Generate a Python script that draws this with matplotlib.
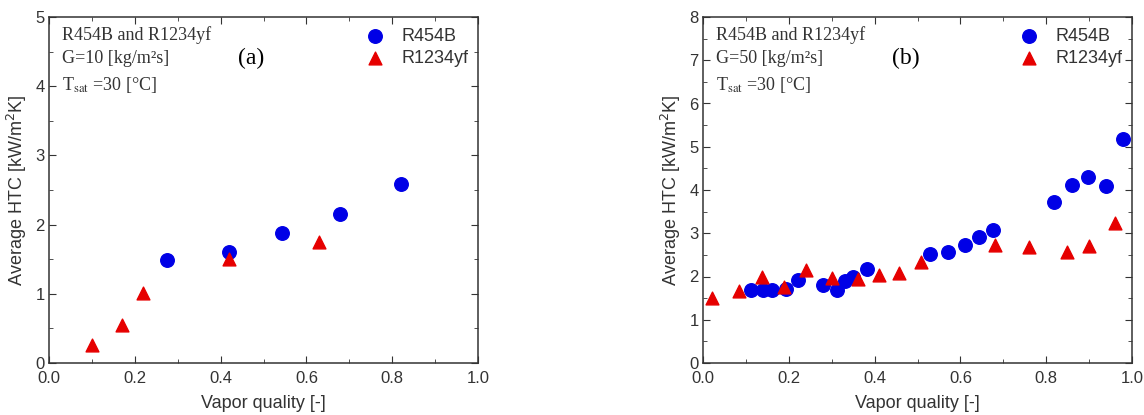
import numpy as np
import matplotlib
matplotlib.use('Agg')
import matplotlib.pyplot as plt
from matplotlib.ticker import MultipleLocator

plt.rcParams['font.family'] = ['Liberation Sans', 'DejaVu Sans']

# (a) G=10
xa_454 = [0.274, 0.419, 0.543, 0.678, 0.821]
ya_454 = [1.49, 1.61, 1.88, 2.16, 2.58]
xa_yf = [0.100, 0.171, 0.220, 0.419, 0.629]
ya_yf = [0.26, 0.55, 1.01, 1.51, 1.75]

# (b) G=50
xb_454 = [0.111, 0.140, 0.160, 0.194, 0.221, 0.279, 0.312, 0.330, 0.349, 0.382,
          0.528, 0.570, 0.610, 0.643, 0.676, 0.819, 0.860, 0.898, 0.939, 0.980]
yb_454 = [1.68, 1.68, 1.69, 1.71, 1.91, 1.81, 1.68, 1.90, 1.99, 2.18,
          2.52, 2.56, 2.73, 2.92, 3.07, 3.72, 4.11, 4.31, 4.10, 5.19]
xb_yf = [0.022, 0.084, 0.138, 0.189, 0.241, 0.300, 0.361, 0.411, 0.456, 0.509,
         0.680, 0.760, 0.849, 0.899, 0.960]
yb_yf = [1.51, 1.66, 2.00, 1.76, 2.14, 1.96, 1.94, 2.03, 2.09, 2.34,
         2.73, 2.69, 2.56, 2.70, 3.23]

W, H = 1144, 415
fig = plt.figure(figsize=(W/100, H/100), dpi=100)


def panel(rect, x1, y1, x2, y2, ymax, G, tag):
    ax = fig.add_axes(rect)
    ax.scatter(x1, y1, s=95, marker='o', color='#0000e6', label='R454B', zorder=3)
    ax.scatter(x2, y2, s=85, marker='^', color='#e60000', label='R1234yf', zorder=3)
    ax.set_xlim(0, 1.0)
    ax.set_ylim(0, ymax)
    ax.xaxis.set_major_locator(MultipleLocator(0.2))
    ax.xaxis.set_minor_locator(MultipleLocator(0.1))
    ax.yaxis.set_major_locator(MultipleLocator(1))
    ax.yaxis.set_minor_locator(MultipleLocator(0.5))
    ax.xaxis.set_major_formatter(matplotlib.ticker.FormatStrFormatter('%.1f'))
    ax.tick_params(which='both', direction='in', top=True, right=True,
                   labelsize=12, color='#333333', labelcolor='#333333')
    ax.tick_params(which='major', length=5)
    ax.tick_params(which='minor', length=3)
    ax.tick_params(axis='x', pad=6)
    ax.tick_params(axis='y', pad=3)
    for s in ax.spines.values():
        s.set_color('#333333')
        s.set_linewidth(1.1)
    ax.set_xlabel('Vapor quality [-]', fontsize=13, color='#333333', labelpad=6)
    ax.set_ylabel('Average HTC [kW/m$^2$K]', fontsize=13, color='#333333', labelpad=5)
    txt = 'R454B and R1234yf\nG=%d [kg/m²s]\nT$_{\\mathrm{sat}}$ =30 [°C]' % G
    ax.text(0.03, 0.975, txt, transform=ax.transAxes, va='top', ha='left',
            family='Liberation Serif', math_fontfamily='stix', fontsize=13,
            color='#333333', linespacing=1.5)
    ax.text(0.44, 0.88, tag, transform=ax.transAxes, ha='left', va='center',
            family='Liberation Serif', fontsize=17)
    ax.legend(loc='upper left', bbox_to_anchor=(0.70, 0.99), frameon=False,
              fontsize=13, handletextpad=0.5, labelspacing=0.3,
              borderaxespad=0, labelcolor='#333333')
    return ax


panel([49/W, 52/H, 429/W, 346/H], xa_454, ya_454, xa_yf, ya_yf, 5, 10, '(a)')
panel([703/W, 52/H, 429/W, 346/H], xb_454, yb_454, xb_yf, yb_yf, 8, 50, '(b)')

fig.savefig('out.png', dpi=100)
